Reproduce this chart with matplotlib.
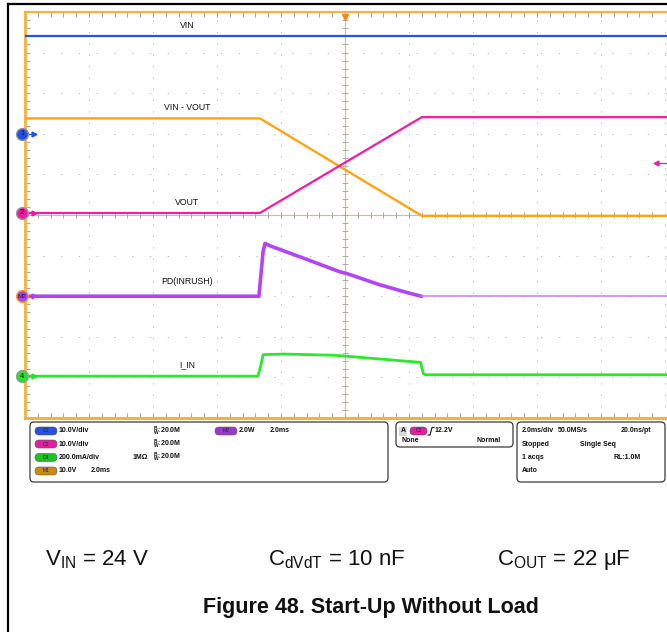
import numpy as np
import matplotlib
matplotlib.use("Agg")
import matplotlib.pyplot as plt
from matplotlib.patches import FancyBboxPatch, Rectangle
from matplotlib.lines import Line2D

plt.rcParams['font.family'] = ['Liberation Sans', 'DejaVu Sans']
plt.rcParams['mathtext.fontset'] = 'custom'
plt.rcParams['mathtext.rm'] = 'Liberation Sans'
plt.rcParams['mathtext.it'] = 'Liberation Sans:italic'
plt.rcParams['mathtext.bf'] = 'Liberation Sans:bold'

# ---------------- data (time in ms, 2 ms/div, trigger at 0) ----------------
vin_t = [-10.0, 10.06]
vin_v = [24.0, 24.0]                       # C1, V

ramp_t = [-10.0, -2.66, 2.40, 10.06]
vout_v = [0.0, 0.0, 23.6, 23.6]            # C2, V
vdiff_v = [24.0, 24.0, 0.0, 0.0]           # M1 = VIN - VOUT, V

pd_t = [-10.0, -2.69, -2.56, -2.50, -2.34, -1.41, -0.16, 0.05, 1.09, 2.03, 2.38]
pd_w = [0.0, 0.0, 2.2, 2.6, 2.48, 1.94, 1.20, 1.12, 0.56, 0.14, 0.0]   # M2, W
pd_tail_t = [2.38, 10.06]
pd_tail_w = [0.0, 0.0]

iin_t = [-10.0, -2.72, -2.62, -2.56, -1.90, -0.31, 2.36, 2.45, 2.52, 10.06]
iin_ma = [0.0, 0.0, 60.0, 106.0, 109.0, 103.0, 68.0, 12.0, 7.0, 7.0]  # C4, mA

trigger_level = 12.2   # V on C2

# channel settings: (offset in divisions, units per division)
CH1 = (7.0, 10.0)
CH2 = (5.05, 10.0)
M1 = (4.98, 10.0)
M2 = (3.0, 2.0)
CH4 = (1.03, 200.0)


def to_div(vals, ch):
    off, scale = ch
    return [off + v / scale for v in vals]


W, H = 667, 632
fig = plt.figure(figsize=(W / 100, H / 100), dpi=100)
fig.patch.set_facecolor('white')

# plot area in pixels: x 25..667 (10 div = 640 px), y 12..418
L, T, B = 25, 12, 418
ax = fig.add_axes([L / W, (H - B) / H, (W - L) / W, (B - T) / H])
ax.set_xlim(-10, -10 + 2 * (W - L) / 64.0)
ax.set_ylim(0, 10)

orange_sp = '#f7b044'
for s in ['left', 'top', 'bottom']:
    ax.spines[s].set_color(orange_sp)
ax.spines['left'].set_linewidth(2.0)
ax.spines['top'].set_linewidth(1.6)
ax.spines['bottom'].set_linewidth(2.2)
ax.spines['right'].set_visible(False)

ax.set_xticks([])
ax.set_yticks([])
ax.set_xticks(np.arange(-9.6, 10.0, 0.4), minor=True)
ax.set_yticks(np.arange(0.2, 10.0, 0.2), minor=True)
ax.tick_params(which='minor', direction='in', length=3.5, width=0.8,
               color='#b0a99c', top=True, bottom=True, left=True, right=False,
               labelbottom=False, labelleft=False)

grid_c = '#bdbdbd'
for xv in np.arange(-8, 10.01, 2):
    if abs(xv) < 1e-9:
        continue
    ax.axvline(xv, color=grid_c, lw=0.8, ls=(0, (1.2, 9.0)), zorder=1)
for yv in np.arange(1, 10, 1):
    if yv == 5:
        continue
    ax.axhline(yv, color=grid_c, lw=0.8, ls=(0, (1.2, 14.8)), zorder=1)
# centre cross-hair with ticks
ax.axvline(0, color='#c4beb2', lw=0.8, zorder=1)
ax.axhline(5, color='#c4beb2', lw=0.8, zorder=1)
ct = np.arange(-9.6, 10.0, 0.4)
ax.plot(ct, np.full_like(ct, 5.0), ls='none', marker='|', ms=4.5, mew=0.7,
        color='#b0a99c', zorder=1)
cy = np.arange(0.2, 10.0, 0.2)
ax.plot(np.zeros_like(cy), cy, ls='none', marker='_', ms=4.5, mew=0.7,
        color='#b0a99c', zorder=1)

# ---------------- traces ----------------
blue = '#2352e6'
pink = '#f21ca6'
orange = '#ffa514'
purple = '#b245f2'
green = '#2ee62e'

ax.plot(vin_t, to_div(vin_v, CH1), color=blue, lw=1.6, zorder=5)
ax.plot(ramp_t, to_div(vdiff_v, M1), color=orange, lw=1.7, zorder=5)
ax.plot(ramp_t, to_div(vout_v, CH2), color=pink, lw=1.6, zorder=6)
ax.plot(pd_t, to_div(pd_w, M2), color=purple, lw=2.6, zorder=5,
        solid_joinstyle='round')
ax.plot(pd_tail_t, to_div(pd_tail_w, M2), color='#c97cf4', lw=1.1, zorder=5)
ax.plot(iin_t, to_div(iin_ma, CH4), color=green, lw=2.0, zorder=5,
        solid_joinstyle='round')

lab_kw = dict(fontsize=6.3, ha='center', va='center', color='#111111', zorder=7)
ax.text(-4.94, 9.66, 'VIN', **lab_kw)
ax.text(-4.94, 7.66, 'VIN - VOUT', **lab_kw)
ax.text(-4.94, 5.30, 'VOUT', **lab_kw)
ax.text(-4.94, 3.35, 'PD(INRUSH)', **lab_kw)
ax.text(-4.94, 1.31, 'I_IN', **lab_kw)

# channel ground markers on the left edge
mx = -10.09
for ch, lab, fc, ec in [(CH1, '1', '#2250e8', '#8f8f9f'),
                        (CH2, '2', '#ea1c9e', '#9f8f9f'),
                        (M2, 'M2', '#b040e8', '#f0a030'),
                        (CH4, '4', '#28e028', '#8f9f8f')]:
    y0 = ch[0]
    ax.plot([-10.0, -9.72], [y0, y0], color=fc, lw=1.0, clip_on=False, zorder=8)
    ax.plot([-9.72], [y0], marker='>', ms=3.5, color=fc, ls='none',
            clip_on=False, zorder=8)
    ax.plot([mx], [y0], marker='o', ms=8.5, mfc=fc, mec=ec, mew=1.0,
            ls='none', clip_on=False, zorder=9)
    ax.text(mx, y0, lab, fontsize=5.5 if len(lab) == 1 else 4.6, ha='center',
            va='center', color='#1a1a40', clip_on=False, zorder=10)

# trigger position (top) and trigger level (right)
ax.plot([0.0], [9.88], marker='v', ms=4.5, color='#f08a1a', ls='none',
        clip_on=False, zorder=9)
ty = CH2[0] + trigger_level / CH2[1]
ax.plot([9.72, 10.02], [ty, ty], color=pink, lw=0.9, zorder=8)
ax.plot([9.72], [ty], marker='<', ms=3.5, color=pink, ls='none', zorder=8)

# ---------------- overlay in pixel coordinates ----------------
ov = fig.add_axes([0, 0, 1, 1])
ov.set_xlim(0, W)
ov.set_ylim(H, 0)
ov.axis('off')
ov.patch.set_visible(False)

# outer frame
ov.add_line(Line2D([8, 8], [4, H], color='black', lw=1.6))
ov.add_line(Line2D([8, W], [4, 4], color='black', lw=1.6))


def rbox(x0, y0, w, h, r=4, ec='#3a3a3a', lw=0.9):
    p = FancyBboxPatch((x0, y0), w, h, boxstyle=f'round,pad=0,rounding_size={r}',
                       fc='white', ec=ec, lw=lw, zorder=3)
    ov.add_patch(p)


def pill(x0, yc, label, fc, w=22, h=8):
    p = FancyBboxPatch((x0, yc - h / 2), w, h,
                       boxstyle=f'round,pad=0,rounding_size={h / 2}',
                       fc=fc, ec='#555555', lw=0.4, zorder=4)
    ov.add_patch(p)
    ov.text(x0 + w / 2, yc, label, fontsize=3.6, ha='center', va='center',
            color='#202050', zorder=5)


rbox(30, 422, 358, 60)
rbox(396, 422, 117, 25)
rbox(517, 422, 148, 60)

tk = dict(fontsize=5.0, fontweight='bold', va='center', color='#111111', zorder=5)
bw = r'${}^{\mathbf{B}}_{\mathbf{W}}$:20.0M'
rows = [431, 444, 457.5, 471]
pill(35, rows[0], 'C1', '#2a50e0')
ov.text(59, rows[0], '10.0V/div', **tk)
ov.text(153, rows[0], bw, **tk)
pill(215, rows[0], 'M2', '#9a38d0')
ov.text(239, rows[0], '2.0W', **tk)
ov.text(270, rows[0], '2.0ms', **tk)

pill(35, rows[1], 'C2', '#e0209c')
ov.text(59, rows[1], '10.0V/div', **tk)
ov.text(153, rows[1], bw, **tk)

pill(35, rows[2], 'C4', '#22c022')
ov.text(59, rows[2], '200.0mA/div', **tk)
ov.text(133, rows[2], '1MΩ', **tk)
ov.text(153, rows[2], bw, **tk)

pill(35, rows[3], 'M1', '#c98b12')
ov.text(59, rows[3], '10.0V', **tk)
ov.text(91, rows[3], '2.0ms', **tk)

# trigger box
ov.add_patch(Rectangle((399, 426.5), 8, 9, fc='#d8d8d8', ec='none', zorder=4))
ov.text(403, rows[0], 'A', ha='center', **tk)
pill(410, rows[0], 'C2', '#e0209c', w=17)
ov.add_line(Line2D([428, 430, 432, 434], [435, 435, 427.5, 427.5],
                   color='#111111', lw=0.8, zorder=5))
ov.text(435, rows[0], '12.2V', **tk)
ov.text(401, 440, 'None', **tk)
ov.text(501, 440, 'Normal', ha='right', **tk)

# acquisition box
ov.text(522, rows[0], '2.0ms/div', **tk)
ov.text(558, rows[0], '50.0MS/s', **tk)
ov.text(651, rows[0], '20.0ns/pt', ha='right', **tk)
ov.text(522, rows[1], 'Stopped', **tk)
ov.text(580, rows[1], 'Single Seq', **tk)
ov.text(522, rows[2], '1 acqs', **tk)
ov.text(641, rows[2], 'RL:1.0M', ha='right', **tk)
ov.text(522, rows[3], 'Auto', **tk)

# conditions and caption
cond = dict(fontsize=16, va='center', ha='left', color='#111111')
ov.text(45, 560, r'V$_{\mathrm{IN}}$ = 24 V', **cond)
ov.text(268, 560, r'C$_{\mathrm{dVdT}}$ = 10 nF', **cond)
ov.text(497, 560, r'C$_{\mathrm{OUT}}$ = 22 μF', **cond)
ov.text(371, 607, 'Figure 48. Start-Up Without Load', fontsize=15.5,
        fontweight='bold', ha='center', va='center', color='#111111')

fig.savefig('out.png', dpi=100)
